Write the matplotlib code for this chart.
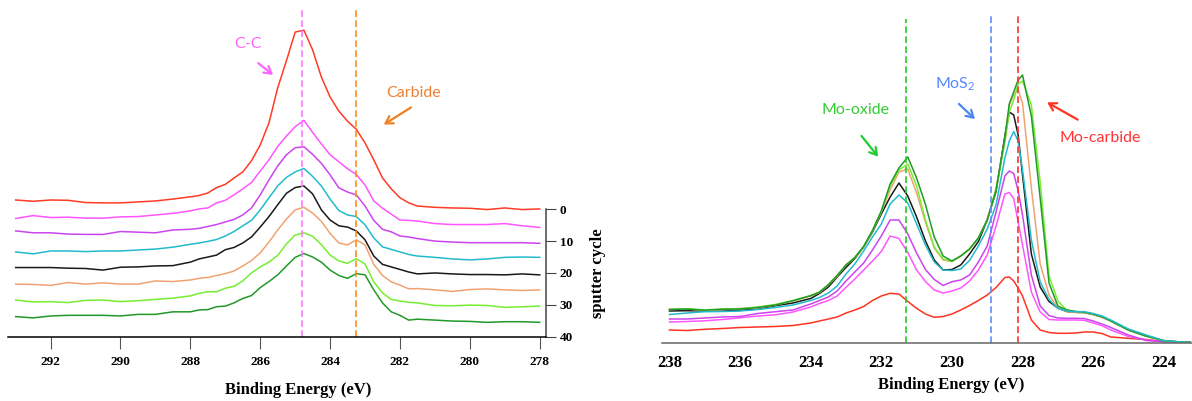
import matplotlib
matplotlib.use('Agg')
import matplotlib.pyplot as plt

# C 1s spectra (left), one curve per sputter cycle, offset in sputter-cycle units
e_c1s = [293.0, 292.5, 292.0, 291.5, 291.0, 290.5, 290.0, 289.5, 289.0, 288.5, 288.0,
         287.75, 287.5, 287.25, 287.0, 286.75, 286.5, 286.25, 286.0, 285.75, 285.5, 285.25,
         285.0, 284.75, 284.5, 284.25, 284.0, 283.75, 283.5, 283.25, 283.0, 282.75, 282.5,
         282.25, 282.0, 281.75, 281.5,
         281.0, 280.5, 280.0, 279.5, 279.0, 278.5, 278.0]

c_red = [2.9, 2.5, 2.9, 2.8, 2.1, 2.0, 2.0, 2.3, 2.6, 3.2, 3.9,
         4.3, 5.1, 6.8, 7.8, 9.8, 11.7, 15.2, 20.2, 27.1, 38.1, 46.6, 55.6, 56.2, 50.0, 41.5,
         35.2, 30.8, 27.6, 25.1, 20.8, 15.5, 9.8, 6.4, 3.6, 2.0, 1.0,
         0.6, 0.4, 0.3, -0.1, 0.4, -0.1, 0.1]
c_magenta = [-2.9, -2.0, -2.6, -2.5, -2.8, -2.8, -2.4, -2.3, -1.8, -1.3, -0.5,
             0.1, 0.4, 2.0, 2.8, 4.5, 6.4, 8.4, 12.0, 15.5, 19.7, 23.0, 25.9, 27.9, 24.1, 20.5,
             17.1, 14.9, 12.7, 10.9, 7.6, 2.6, 0.3, -1.5, -3.4, -3.5, -3.7,
             -4.5, -4.8, -4.8, -4.8, -4.5, -5.2, -5.7]
c_purple = [-6.8, -7.4, -7.4, -7.8, -7.9, -7.9, -7.0, -7.2, -7.4, -6.5, -6.3,
            -6.0, -5.4, -4.8, -4.0, -3.2, -1.8, 0.4, 4.5, 9.2, 13.6, 17.1, 19.3, 19.6, 17.2, 14.4,
            10.8, 6.7, 5.4, 4.5, 1.0, -3.5, -6.3, -7.1, -8.4, -8.7, -9.2,
            -10.0, -10.3, -10.5, -10.5, -10.5, -10.5, -10.7]
c_cyan = [-13.4, -14.0, -13.1, -13.1, -13.3, -13.1, -13.1, -12.8, -12.5, -11.9, -11.0,
          -10.6, -10.1, -9.5, -8.4, -7.0, -5.2, -3.5, -0.2, 3.6, 7.3, 10.0, 11.7, 12.8, 10.3, 7.3,
          3.2, -0.4, -1.8, -2.3, -4.9, -9.0, -11.8, -12.6, -13.4, -14.2, -14.7,
          -15.1, -15.6, -15.9, -15.6, -15.1, -15.0, -15.1]
c_black = [-18.3, -18.3, -18.3, -18.5, -18.6, -19.1, -18.2, -18.1, -17.8, -17.7, -16.6,
           -15.6, -15.0, -14.4, -12.7, -12.0, -10.6, -8.7, -5.6, -2.3, 1.4, 5.0, 6.8, 7.3, 4.8, -0.2,
           -3.4, -5.2, -5.6, -6.8, -9.6, -14.7, -17.3, -18.1, -18.9, -19.7, -20.3,
           -20.0, -20.3, -20.5, -20.5, -20.6, -20.3, -20.6]
c_tan = [-23.5, -23.6, -23.9, -23.0, -23.5, -23.1, -23.5, -23.5, -22.5, -22.7, -22.2,
         -21.7, -21.4, -20.8, -20.2, -19.4, -17.8, -16.1, -13.7, -10.3, -6.5, -3.1, -0.2, 0.6, -1.2, -3.8,
         -7.6, -10.6, -11.2, -9.6, -11.2, -17.3, -20.8, -22.8, -23.8, -25.0, -24.9,
         -25.3, -25.8, -25.2, -25.0, -25.3, -25.5, -25.3]
c_lgreen = [-28.5, -29.1, -29.0, -29.3, -28.6, -28.5, -29.0, -28.7, -28.3, -27.9, -27.2,
            -26.4, -25.9, -25.9, -24.8, -24.2, -22.5, -20.0, -18.1, -16.6, -14.5, -10.9, -8.1, -7.4, -8.5, -11.1,
            -14.4, -16.2, -17.0, -15.5, -17.2, -22.8, -26.3, -28.3, -28.8, -29.2, -29.4,
            -30.2, -30.3, -30.1, -30.2, -30.8, -30.6, -30.4]
c_dgreen = [-33.7, -34.1, -33.5, -33.3, -33.3, -33.3, -33.5, -33.0, -33.0, -32.2, -32.2,
            -31.6, -31.5, -30.6, -30.4, -29.4, -28.0, -27.1, -24.6, -22.7, -20.6, -17.8, -15.1, -13.9, -15.0, -16.6,
            -19.1, -20.8, -21.7, -20.2, -20.6, -25.3, -29.4, -32.2, -33.3, -34.8, -34.5,
            -34.8, -35.1, -35.2, -35.5, -35.3, -35.3, -35.5]

# Mo 3d spectra (right), intensity in arbitrary units
e_mo3d = [238.0, 237.5, 237.0, 236.5, 236.0, 235.5, 235.0, 234.5, 234.0,
          233.75, 233.5, 233.25, 233.0, 232.75, 232.5, 232.25, 232.0, 231.75, 231.5, 231.25, 231.0,
          230.75, 230.5, 230.25, 230.0, 229.75, 229.5, 229.25, 229.0, 228.75,
          228.5, 228.375, 228.25, 228.125, 228.0,
          227.75, 227.5, 227.25, 227.0, 226.75, 226.5, 226.25, 226.0, 225.75, 225.5,
          225.0, 224.5, 224.0, 223.5, 223.25]

m_red = [12.5, 12.0, 13.2, 14.0, 15.0, 15.5, 16.0, 17.0, 19.5,
         21.5, 23.5, 25.5, 29.5, 32.5, 36.0, 42.0, 46.5, 49.2, 48.5, 41.0, 34.2,
         28.5, 25.2, 26.0, 28.5, 32.5, 37.0, 42.0, 47.5, 55.0,
         65.0, 65.5, 61.5, 54.5, 46.5,
         22.5, 12.5, 10.0, 9.2, 9.2, 9.5, 10.5, 10.5, 9.0, 5.5,
         4.2, 3.0, 1.0, 0.5, 0.2]
m_magenta = [20.5, 21.0, 21.7, 23.0, 24.7, 26.5, 27.7, 30.5, 35.5,
             39.0, 42.0, 46.5, 55.2, 63.5, 72.5, 81.5, 91.0, 106.5, 104.0, 90.0, 72.5,
             61.0, 52.5, 49.5, 51.5, 54.5, 61.5, 72.5, 87.5, 116.5,
             148.5, 150.0, 144.0, 120.5, 97.5,
             50.5, 30.5, 23.0, 22.5, 22.5, 22.5, 22.2, 19.5, 16.8, 12.5,
             6.0, 2.5, 1.0, 0.5, 0.3]
m_purple = [23.5, 23.5, 24.5, 25.5, 26.0, 29.0, 30.8, 32.5, 38.5,
            42.0, 45.5, 51.5, 61.5, 70.5, 79.5, 92.5, 106.5, 122.5, 122.5, 108.5, 89.5,
            73.0, 63.0, 57.0, 60.8, 62.5, 67.5, 80.5, 96.5, 130.5,
            166.5, 171.5, 169.0, 152.0, 127.5,
            67.5, 36.5, 27.0, 24.5, 24.2, 24.2, 24.0, 21.5, 18.5, 15.0,
            7.5, 2.0, 0.8, 0.5, 0.3]
m_cyan = [28.0, 29.5, 30.8, 31.0, 31.5, 33.0, 35.0, 37.5, 42.0,
          45.0, 49.5, 56.5, 68.5, 78.5, 91.5, 105.5, 118.5, 138.5, 147.5, 139.5, 118.5,
          97.5, 80.5, 72.5, 72.0, 73.5, 82.0, 96.5, 113.5, 137.5,
          184.5, 201.5, 211.0, 201.5, 172.5,
          102.5, 60.5, 43.0, 34.0, 31.5, 30.8, 30.8, 29.0, 26.5, 22.5,
          13.5, 7.5, 2.0, 0.5, 0.0]
m_black = [31.5, 31.8, 31.5, 31.5, 32.2, 33.5, 36.8, 39.5, 44.0,
           49.0, 55.5, 65.5, 75.0, 84.0, 95.5, 110.5, 128.5, 145.5, 159.5, 146.5, 125.5,
           101.5, 82.5, 72.5, 73.0, 77.5, 88.5, 101.0, 122.5, 151.0,
           206.5, 230.5, 227.5, 207.5, 167.5,
           88.5, 55.5, 41.0, 34.5, 31.0, 30.2, 30.0, 28.0, 25.5, 21.5,
           12.5, 6.5, 1.8, 0.4, 0.0]
m_tan = [33.2, 33.5, 32.0, 32.8, 34.0, 34.5, 37.5, 41.5, 46.5,
         50.0, 57.5, 66.5, 77.5, 84.8, 95.5, 111.5, 130.5, 152.5, 170.5, 173.5, 149.5,
         120.5, 94.5, 82.5, 81.0, 86.5, 93.5, 104.5, 123.0, 153.5,
         202.5, 237.5, 248.0, 252.5, 239.5,
         154.5, 78.5, 47.5, 34.5, 31.0, 30.2, 29.7, 28.0, 25.2, 21.2,
         12.3, 6.3, 1.8, 0.4, 0.0]
m_lgreen = [33.0, 33.8, 32.5, 33.5, 33.8, 35.5, 38.0, 42.0, 47.0,
            50.5, 58.0, 67.0, 77.5, 85.0, 96.0, 112.0, 131.0, 156.5, 172.5, 178.5, 156.5,
            122.5, 95.5, 83.5, 81.0, 86.5, 93.5, 104.5, 122.5, 152.5,
            200.5, 230.5, 242.5, 258.5, 261.5,
            237.5, 160.5, 66.5, 41.5, 32.5, 31.0, 30.2, 28.5, 25.7, 21.7,
            12.5, 6.5, 1.8, 0.4, 0.0]
m_dgreen = [33.0, 33.5, 32.3, 33.3, 33.5, 35.0, 37.5, 41.8, 46.8,
            50.3, 57.8, 67.0, 77.5, 85.0, 96.0, 112.0, 131.5, 158.5, 174.5, 185.5, 164.5,
            138.0, 105.5, 86.5, 81.5, 86.5, 93.5, 104.5, 122.5, 152.5,
            204.5, 238.5, 250.5, 262.5, 267.5,
            226.5, 144.5, 59.5, 36.5, 32.5, 31.0, 30.2, 28.5, 25.7, 21.7,
            12.5, 6.5, 1.8, 0.4, 0.0]

left_curves = [(c_red, '#FF3B24'), (c_magenta, '#FF55FF'), (c_purple, '#CC44EE'),
               (c_cyan, '#22BBCC'), (c_black, '#1A1A1A'), (c_tan, '#F2A272'),
               (c_lgreen, '#77EE33'), (c_dgreen, '#22992A')]
right_curves = [(m_red, '#FF3322'), (m_magenta, '#FF55FF'), (m_purple, '#CC44EE'),
                (m_black, '#1A1A1A'), (m_tan, '#F2A272'), (m_lgreen, '#77EE33'),
                (m_dgreen, '#22992A'), (m_cyan, '#22BBCC')]

plt.rcParams['font.family'] = 'Liberation Serif'
plt.rcParams['font.weight'] = 'bold'
plt.rcParams['mathtext.default'] = 'regular'

W, H = 1192, 401
fig = plt.figure(figsize=(W / 100, H / 100), dpi=100)


def px_rect(x0, y_top, x1, y_bot):
    # axes rectangle from pixel corners (origin top-left)
    return [x0 / W, 1 - y_bot / H, (x1 - x0) / W, (y_bot - y_top) / H]


# ---- left panel: C 1s ----
ax1 = fig.add_axes(px_rect(8, 5, 546, 337))
for vals, col in left_curves:
    ax1.plot(e_c1s, vals, color=col, lw=1.1)

ax1.vlines(284.81, -40, 63, colors='#FF77FF', linestyles=(0, (4, 2)), lw=1.2)
ax1.vlines(283.26, -40, 63, colors='#FF8C1A', linestyles=(0, (4, 2)), lw=1.2)

ax1.set_xlim(293.22, 277.82)
ax1.set_ylim(-40.1, 64.1)
ax1.set_xticks([292, 290, 288, 286, 284, 282, 280, 278])
ax1.set_yticks([0, -10, -20, -30, -40])
ax1.set_yticklabels(['0', '10', '20', '30', '40'])
ax1.yaxis.tick_right()
ax1.spines['left'].set_visible(False)
ax1.spines['top'].set_visible(False)
ax1.spines['right'].set_bounds(-40, 0)
ax1.spines['right'].set_color('#444444')
ax1.spines['right'].set_linewidth(1.1)
ax1.spines['bottom'].set_linewidth(1.1)
ax1.tick_params(axis='x', direction='out', length=8.5, width=0.8, color='#555555',
                pad=5, labelsize=9.5)
ax1.tick_params(axis='y', direction='out', length=7, width=0.8, color='#444444',
                pad=3, labelsize=9.5)

ax1.annotate('', xy=(285.57, 41.6), xytext=(286.12, 46.4),
             arrowprops=dict(arrowstyle='->,head_length=0.5,head_width=0.3', color='#FF66FF', lw=1.6))
ax1.text(286.36, 51.8, 'C-C', color='#FF66FF', fontsize=11.5, family='Lato',
         weight='normal', ha='center', va='center')
ax1.annotate('', xy=(282.53, 26.1), xytext=(281.62, 32.4),
             arrowprops=dict(arrowstyle='->,head_length=0.5,head_width=0.3', color='#F08020', lw=1.6))
ax1.text(281.62, 36.5, 'Carbide', color='#EE8033', fontsize=11.5, family='Lato',
         weight='normal', ha='center', va='center')

fig.text(598 / W, 1 - 273 / H, 'sputter cycle', rotation=90, ha='center', va='center',
         fontsize=12, weight='bold')
fig.text(298.5 / W, 1 - 389.6 / H, 'Binding Energy (eV)', ha='center', va='center',
         fontsize=12, weight='bold')

# ---- right panel: Mo 3d ----
ax2 = fig.add_axes(px_rect(661.7, 5, 1192, 342.5))
for vals, col in right_curves:
    ax2.plot(e_mo3d, vals, color=col, lw=1.1)

ax2.vlines(231.31, 0, 324, colors='#22CC22', linestyles=(0, (4, 2)), lw=1.2)
ax2.vlines(228.89, 0, 327.5, colors='#5B8CFF', linestyles=(0, (4, 2)), lw=1.2)
ax2.vlines(228.12, 0, 327.5, colors='#FF3030', linestyles=(0, (4, 2)), lw=1.2)

ax2.set_xlim(238.22, 223.2)
ax2.set_ylim(0, 337.5)
ax2.set_xticks([238, 236, 234, 232, 230, 228, 226, 224])
ax2.set_yticks([])
for side in ['left', 'top', 'right']:
    ax2.spines[side].set_visible(False)
ax2.spines['bottom'].set_color('#666666')
ax2.spines['bottom'].set_linewidth(1.1)
ax2.tick_params(axis='x', length=0, pad=9, labelsize=12)

ax2.annotate('', xy=(232.04, 183.6), xytext=(232.61, 208.7),
             arrowprops=dict(arrowstyle='->,head_length=0.5,head_width=0.3', color='#22CC33', lw=1.6))
ax2.text(232.72, 232.5, 'Mo-oxide', color='#33CC33', fontsize=11.5, family='Lato',
         weight='normal', ha='center', va='center')
ax2.annotate('', xy=(229.29, 221.5), xytext=(229.86, 240.5),
             arrowprops=dict(arrowstyle='->,head_length=0.5,head_width=0.3', color='#4A86F0', lw=1.6))
ax2.text(229.91, 258.2, 'MoS$_2$', color='#5588FF', fontsize=11.5, family='Lato',
         weight='normal', ha='center', va='center')
ax2.annotate('', xy=(227.37, 241.5), xytext=(226.37, 221.5),
             arrowprops=dict(arrowstyle='->,head_length=0.5,head_width=0.3', color='#FF3322', lw=1.6))
ax2.text(225.80, 204.5, 'Mo-carbide', color='#FF3333', fontsize=11.5, family='Lato',
         weight='normal', ha='center', va='center')

fig.text(951 / W, 1 - 384.6 / H, 'Binding Energy (eV)', ha='center', va='center',
         fontsize=12, weight='bold')

fig.savefig('out.png', dpi=100)
